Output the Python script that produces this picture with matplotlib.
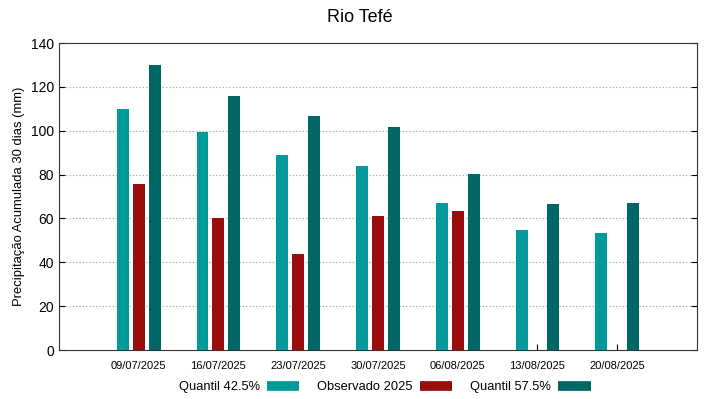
import numpy as np
import matplotlib
matplotlib.use('Agg')
import matplotlib.pyplot as plt
from matplotlib.lines import Line2D

plt.rcParams['font.family'] = ['Liberation Sans', 'DejaVu Sans']

datas = ['09/07/2025', '16/07/2025', '23/07/2025', '30/07/2025',
         '06/08/2025', '13/08/2025', '20/08/2025']
q425 = [110.0, 99.5, 89.0, 84.0, 67.0, 54.8, 53.4]
obs2025 = [75.8, 60.0, 43.6, 61.1, 63.2, np.nan, np.nan]
q575 = [130.0, 115.9, 106.8, 101.8, 80.4, 66.8, 67.1]

cor_q425 = '#009a9a'
cor_obs = '#990d0d'
cor_q575 = '#006767'

fig = plt.figure(figsize=(7.19, 3.99), dpi=100)
ax = fig.add_axes([0.082, 0.1228, 0.8874, 0.7694])

x = np.arange(1, len(datas) + 1)
w = 0.15
ax.bar(x - 0.2, q425, w, color=cor_q425, zorder=3)
ax.bar(x, obs2025, w, color=cor_obs, zorder=3)
ax.bar(x + 0.2, q575, w, color=cor_q575, zorder=3)

ax.set_xlim(0, 8)
ax.set_ylim(0, 140)
ax.set_yticks(np.arange(0, 141, 20))
ax.set_xticks(x)
ax.set_xticklabels(datas, fontsize=8)
ax.tick_params(axis='y', labelsize=10, direction='in', right=True, length=4, width=0.8)
ax.tick_params(axis='x', direction='in', length=4, width=0.8, pad=8)

for v in range(20, 140, 20):
    ax.axhline(v, color='#999999', linestyle=(0, (1, 2)), linewidth=0.8, zorder=1)

for s in ax.spines.values():
    s.set_linewidth(0.8)
    s.set_color('#333333')

ax.set_ylabel('Precipitação Acumulada 30 dias (mm)', fontsize=9.4)
fig.suptitle('Rio Tefé', fontsize=13, y=0.978)

handles = [Line2D([], [], color=c, linewidth=7, solid_capstyle='butt')
           for c in (cor_q425, cor_obs, cor_q575)]
fig.legend(handles, ['Quantil 42.5%', 'Observado 2025', 'Quantil 57.5%'],
           loc='center', bbox_to_anchor=(0.535, 0.03), ncol=3, frameon=False,
           markerfirst=False, fontsize=9.3, handlelength=2.5, columnspacing=1.4,
           handletextpad=0.55)

plt.savefig('out.png', dpi=100)
